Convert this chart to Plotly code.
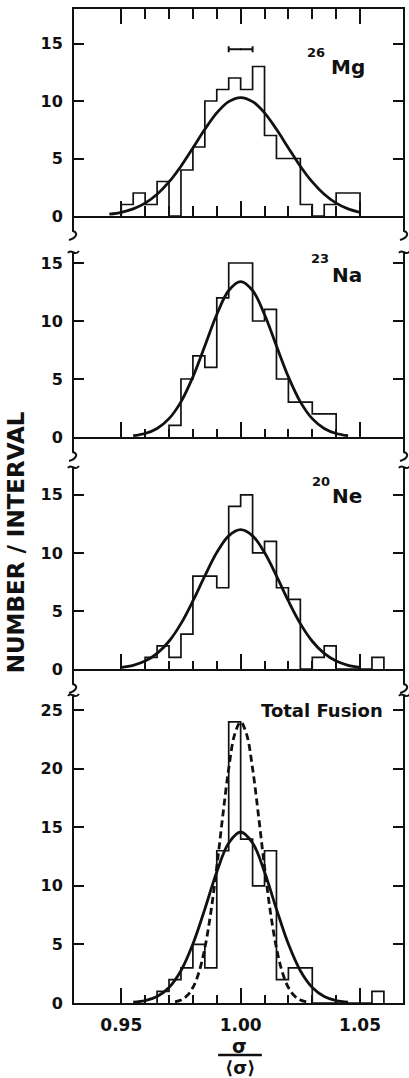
import plotly.graph_objects as go

# ---- histogram data: counts per 0.005-wide interval of sigma/<sigma> ----
bin_left = [0.950, 0.955, 0.960, 0.965, 0.970, 0.975, 0.980, 0.985, 0.990, 0.995,
            1.000, 1.005, 1.010, 1.015, 1.020, 1.025, 1.030, 1.035, 1.040, 1.045,
            1.050, 1.055]
bin_width = 0.005

counts_mg = [1, 2, 1, 3, 0, 4, 6, 10, 11, 12, 11, 13, 7, 5, 5, 1, 0, 1, 2, 2, 0, 0]
counts_na = [0, 0, 0, 0, 1, 5, 7, 6, 12, 15, 15, 10, 11, 5, 3, 3, 2, 2, 0, 0, 0, 0]
counts_ne = [0, 0, 1, 2, 1, 3, 8, 8, 7, 14, 15, 10, 11, 7, 6, 0, 1, 2, 0, 0, 0, 1]
counts_total = [0, 0, 0, 1, 2, 3, 5, 3, 13, 24, 14, 10, 13, 2, 3, 3, 0, 0, 0, 0, 0, 1]

# ---- fitted curves ----
fit_x_mg = [0.945, 0.950, 0.955, 0.960, 0.965, 0.970, 0.975, 0.980, 0.985, 0.990, 0.995,
            1.000, 1.005, 1.010, 1.015, 1.020, 1.025, 1.030, 1.035, 1.040, 1.045, 1.050]
fit_y_mg = [0.16, 0.32, 0.62, 1.12, 1.89, 2.96, 4.33, 5.92, 7.54, 8.97, 9.95,
            10.3, 9.95, 8.97, 7.54, 5.92, 4.33, 2.96, 1.89, 1.12, 0.62, 0.32]

fit_x_na = [0.955, 0.960, 0.965, 0.970, 0.975, 0.980, 0.985, 0.990, 0.995, 1.000,
            1.005, 1.010, 1.015, 1.020, 1.025, 1.030, 1.035, 1.040, 1.045]
fit_y_na = [0.11, 0.30, 0.73, 1.58, 3.03, 5.18, 7.85, 10.56, 12.63, 13.4,
            12.63, 10.56, 7.85, 5.18, 3.03, 1.58, 0.73, 0.30, 0.11]

fit_x_ne = [0.950, 0.955, 0.960, 0.965, 0.970, 0.975, 0.980, 0.985, 0.990, 0.995, 1.000,
            1.005, 1.010, 1.015, 1.020, 1.025, 1.030, 1.035, 1.040, 1.045, 1.050]
fit_y_ne = [0.14, 0.32, 0.68, 1.34, 2.39, 3.91, 5.86, 8.02, 10.03, 11.47, 12.0,
            11.47, 10.03, 8.02, 5.86, 3.91, 2.39, 1.34, 0.68, 0.32, 0.14]

fit_x_total = [0.955, 0.960, 0.965, 0.970, 0.975, 0.980, 0.985, 0.990, 0.995, 1.000,
               1.005, 1.010, 1.015, 1.020, 1.025, 1.030, 1.035, 1.040, 1.045]
fit_y_total = [0.07, 0.21, 0.56, 1.33, 2.76, 5.03, 8.02, 11.19, 13.66, 14.6,
               13.66, 11.19, 8.02, 5.03, 2.76, 1.33, 0.56, 0.21, 0.07]

fit_x_total_narrow = [0.9725, 0.9750, 0.9775, 0.9800, 0.9825, 0.9850, 0.9875, 0.9900,
                      0.9925, 0.9950, 0.9975, 1.0000, 1.0025, 1.0050, 1.0075, 1.0100,
                      1.0125, 1.0150, 1.0175, 1.0200, 1.0225, 1.0250, 1.0275]
fit_y_total_narrow = [0.10, 0.26, 0.61, 1.32, 2.60, 4.69, 7.72, 11.61, 15.95, 20.02,
                      22.94, 24.0, 22.94, 20.02, 15.95, 11.61, 7.72, 4.69, 2.60, 1.32,
                      0.61, 0.26, 0.10]

# resolution bar drawn in the 26Mg panel
mg_bar_center = [1.000]
mg_bar_level = [14.5]
mg_bar_half = 0.005

x_major = [0.95, 1.00, 1.05]
x_major_text = ["0.95", "1.00", "1.05"]
x_minor = [0.96, 0.97, 0.98, 0.99, 1.01, 1.02, 1.03, 1.04]
y_ticks_small = [0, 5, 10, 15]
y_ticks_total = [0, 5, 10, 15, 20, 25]

# ---- page geometry (pixels) ----
W, H = 409, 1078
ML, MR, MT, MB = 74, 4, 9, 75
PW, PH = W - ML - MR, H - MT - MB
INK = "#111111"
FONT = "DejaVu Sans"


def px(x):
    return (x - ML) / PW


def py(y):
    return (H - MB - y) / PH


def P(x, y):
    return f"{px(x):.5f},{py(y):.5f}"


def step_xy(counts):
    idx = [i for i, c in enumerate(counts) if c > 0]
    lo, hi = idx[0], idx[-1]
    xs, ys = [bin_left[lo]], [0]
    for i in range(lo, hi + 1):
        xs.append(bin_left[i])
        ys.append(counts[i])
    xs.append(bin_left[hi] + bin_width)
    ys.append(0)
    return xs, ys


# panel: axis suffix, zero-line pixel row, top pixel row, y max, ticks
panels = [
    ("4", 216, 9, 18.0, y_ticks_small, counts_mg, [(fit_x_mg, fit_y_mg, "solid")]),
    ("3", 437, 252, 15.95, y_ticks_small, counts_na, [(fit_x_na, fit_y_na, "solid")]),
    ("2", 669, 467, 17.4, y_ticks_small, counts_ne, [(fit_x_ne, fit_y_ne, "solid")]),
    ("", 1003, 695, 26.3, y_ticks_total, counts_total,
     [(fit_x_total, fit_y_total, "solid"),
      (fit_x_total_narrow, fit_y_total_narrow, "7px,4px")]),
]

fig = go.Figure()
layout_axes = {}
for suf, y0, yt, ymax, yt_vals, counts, fits in panels:
    xa, ya = "x" + suf, "y" + suf
    hx, hy = step_xy(counts)
    fig.add_trace(go.Scatter(x=hx, y=hy, mode="lines", line_shape="hv",
                             line=dict(color=INK, width=1.7), xaxis=xa, yaxis=ya,
                             hoverinfo="skip"))
    for fx, fy, dash in fits:
        fig.add_trace(go.Scatter(x=fx, y=fy, mode="lines", line_shape="spline",
                                 line=dict(color=INK, width=2.8, dash=dash),
                                 xaxis=xa, yaxis=ya, hoverinfo="skip"))
    is_top = suf == "4"
    is_bottom = suf == ""
    layout_axes["xaxis" + suf] = dict(
        domain=[0, 1], anchor=ya, range=[0.9302, 1.068],
        tickmode="array", tickvals=x_major, ticktext=x_major_text,
        showticklabels=is_bottom, ticks="inside", ticklen=15, tickwidth=2,
        tickcolor=INK, minor=dict(tickmode="array", tickvals=x_minor, ticks="inside",
                                  ticklen=8 if not is_top else 10, tickwidth=2,
                                  tickcolor=INK),
        showline=True, linecolor=INK, linewidth=2,
        mirror="ticks" if is_top else False,
        showgrid=False, zeroline=False, ticklabelstandoff=6,
        tickfont=dict(family=FONT, size=17, color=INK, weight="bold"),
    )
    layout_axes["yaxis" + suf] = dict(
        domain=[py(y0), py(yt)], anchor=xa, range=[0, ymax],
        tickmode="array", tickvals=yt_vals, ticks="inside", ticklen=10, tickwidth=2,
        tickcolor=INK, showline=True, linecolor=INK, linewidth=2, mirror="ticks",
        showgrid=False, zeroline=False, ticklabelstandoff=6,
        tickfont=dict(family=FONT, size=16, color=INK, weight="bold"),
    )

# resolution bar
fig.add_trace(go.Scatter(x=mg_bar_center, y=mg_bar_level, mode="markers",
                         marker=dict(size=2, color=INK),
                         error_x=dict(type="constant", value=mg_bar_half, thickness=2,
                                      width=3, color=INK),
                         xaxis="x4", yaxis="y4", hoverinfo="skip"))

# axis breaks between stacked panels
shapes = []
xl, xr = 73, 406
for y0 in (216, 437, 669):
    for x in (xl, xr):
        shapes.append(dict(type="path", xref="paper", yref="paper",
                           path=f"M {P(x, y0)} L {P(x, y0 + 15)} "
                                f"C {P(x + 6, y0 + 17)} {P(x + 3, y0 + 22)} {P(x - 4, y0 + 24)}",
                           line=dict(color=INK, width=2)))
for yt in (252, 467, 695):
    for x in (xl, xr):
        shapes.append(dict(type="path", xref="paper", yref="paper",
                           path=f"M {P(x - 5, yt + 1)} C {P(x - 2, yt - 4)} "
                                f"{P(x + 2, yt + 5)} {P(x + 6, yt - 1)}",
                           line=dict(color=INK, width=2)))
# fraction bar of the x title
shapes.append(dict(type="line", xref="paper", yref="paper",
                   x0=px(219), x1=px(263), y0=py(1055), y1=py(1055),
                   line=dict(color=INK, width=2.5)))

ann = []


def label(text, x, y, size, xanchor="center", yanchor="middle", height=None):
    a = dict(text=text, xref="paper", yref="paper", x=px(x), y=py(y),
             xanchor=xanchor, yanchor=yanchor, showarrow=False, borderpad=0,
             font=dict(family=FONT, size=size, color=INK, weight="bold"))
    if height is not None:
        a["height"] = height
    ann.append(a)


label("26", 317, 52, 13)
label("Mg", 332, 67, 20, "left")
label("23", 321, 258, 13)
label("Na", 333, 275, 20, "left")
label("20", 322, 482, 13)
label("Ne", 333, 496, 20, "left")
label("Total Fusion", 324, 710, 18)
label("σ", 241, 1046, 19, height=16)
label("⟨σ⟩", 241, 1056, 18, yanchor="top")
ann.append(dict(text="NUMBER / INTERVAL", xref="paper", yref="paper",
                x=px(16), y=py(542), textangle=-90, showarrow=False,
                xanchor="center", yanchor="middle",
                font=dict(family=FONT, size=23, color=INK, weight="bold")))

fig.update_layout(
    width=W, height=H, margin=dict(l=ML, r=MR, t=MT, b=MB, pad=0),
    paper_bgcolor="white", plot_bgcolor="white", showlegend=False,
    shapes=shapes, annotations=ann, **layout_axes,
)

fig.write_html("out.html")
